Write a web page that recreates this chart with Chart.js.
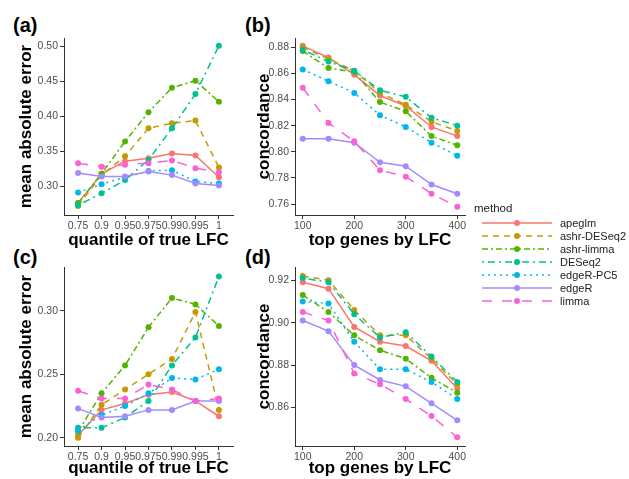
<!DOCTYPE html>
<html>
<head>
<meta charset="utf-8">
<script src="https://cdn.jsdelivr.net/npm/chart.js@4.4.0/dist/chart.umd.min.js"></script>
<style>
  body { margin: 0; background: #fff; width: 629px; height: 479px; position: relative; overflow: hidden; font-family: "Liberation Sans", Arial, sans-serif; }
  canvas { position: absolute; }
  .tag { position: absolute; font-weight: bold; font-size: 20px; line-height: 20px; color: #000; }
  .lrow { position: absolute; left: 482px; height: 12px; font-size: 11px; line-height: 12px; color: #222; white-space: nowrap; }
  .lrow svg { position: absolute; left: 0; top: 0; }
  .lrow span { position: absolute; left: 78px; top: 0; }
  #legTitle { position: absolute; left: 474px; top: 202px; font-size: 11.5px; color: #222; }
</style>
</head>
<body>
<div class="tag" style="left:13px;top:15px">(a)</div>
<div class="tag" style="left:245px;top:15px">(b)</div>
<div class="tag" style="left:13px;top:247px">(c)</div>
<div class="tag" style="left:245px;top:247px">(d)</div>

<canvas id="panelA" width="240" height="252" style="left:0;top:0"></canvas>
<canvas id="panelB" width="240" height="252" style="left:240px;top:0"></canvas>
<canvas id="panelC" width="240" height="227" style="left:0;top:252px"></canvas>
<canvas id="panelD" width="240" height="227" style="left:240px;top:252px"></canvas>

<div id="legTitle">method</div>
<div id="legend"></div>

<script>
const methods = ['apeglm', 'ashr-DESeq2', 'ashr-limma', 'DESeq2', 'edgeR-PC5', 'edgeR', 'limma'];
const colors = ['#F8766D', '#C49A00', '#53B400', '#00C094', '#00B6EB', '#A58AFF', '#FB61D7'];
const dashes = [[], [6, 5], [6, 3, 2, 3], [2, 4, 7, 4], [2, 4], [], [10, 10]];

const quantiles = ['0.75', '0.9', '0.95', '0.975', '0.99', '0.995', '1'];
const topGenes = [100, 150, 200, 250, 300, 350, 400];
const topGeneTicks = [100, 200, 300, 400];

const maeTicksA = [0.30, 0.35, 0.40, 0.45, 0.50];
const concTicksB = [0.76, 0.78, 0.80, 0.82, 0.84, 0.86, 0.88];
const maeTicksC = [0.20, 0.25, 0.30];
const concTicksD = [0.86, 0.88, 0.90, 0.92];

// (a) mean absolute error, rows follow methods
const maeA = [
  [0.276, 0.318, 0.336, 0.340, 0.347, 0.344, 0.313],
  [0.272, 0.316, 0.343, 0.383, 0.390, 0.394, 0.327],
  [0.276, 0.318, 0.364, 0.406, 0.441, 0.451, 0.421],
  [0.273, 0.290, 0.309, 0.338, 0.383, 0.432, 0.501],
  [0.291, 0.303, 0.313, 0.322, 0.323, 0.307, 0.304],
  [0.319, 0.314, 0.314, 0.321, 0.316, 0.304, 0.301],
  [0.333, 0.328, 0.331, 0.333, 0.337, 0.326, 0.320]
];

// (b) concordance
const concB = [
  [0.881, 0.872, 0.859, 0.843, 0.835, 0.819, 0.812],
  [0.880, 0.871, 0.862, 0.845, 0.836, 0.823, 0.816],
  [0.877, 0.864, 0.861, 0.838, 0.831, 0.812, 0.805],
  [0.878, 0.869, 0.862, 0.847, 0.842, 0.826, 0.820],
  [0.863, 0.854, 0.845, 0.828, 0.819, 0.807, 0.797],
  [0.810, 0.810, 0.807, 0.792, 0.789, 0.775, 0.768],
  [0.849, 0.822, 0.808, 0.786, 0.781, 0.768, 0.758]
];

// (c) mean absolute error
const maeC = [
  [0.202, 0.222, 0.227, 0.234, 0.236, 0.229, 0.217],
  [0.200, 0.226, 0.238, 0.250, 0.262, 0.299, 0.222],
  [0.205, 0.235, 0.257, 0.287, 0.310, 0.305, 0.288],
  [0.208, 0.208, 0.216, 0.229, 0.257, 0.279, 0.327],
  [0.206, 0.218, 0.225, 0.235, 0.247, 0.246, 0.254],
  [0.223, 0.216, 0.217, 0.222, 0.222, 0.229, 0.229],
  [0.237, 0.231, 0.231, 0.242, 0.238, 0.229, 0.231]
];

// (d) concordance
const concD = [
  [0.919, 0.916, 0.898, 0.891, 0.889, 0.882, 0.869],
  [0.922, 0.920, 0.906, 0.894, 0.894, 0.883, 0.871],
  [0.913, 0.905, 0.894, 0.887, 0.883, 0.874, 0.867],
  [0.921, 0.919, 0.904, 0.893, 0.8955, 0.884, 0.872],
  [0.910, 0.909, 0.891, 0.878, 0.878, 0.872, 0.864],
  [0.901, 0.896, 0.880, 0.873, 0.870, 0.862, 0.854],
  [0.905, 0.901, 0.876, 0.871, 0.864, 0.856, 0.846]
];

const tickFont = { family: '"Liberation Sans", Arial, sans-serif', size: 10.5 };
const titleFont = { family: '"Liberation Sans", Arial, sans-serif', size: 17, weight: 'bold' };

function drawPanel(id, xs, series, o) {
  const ctx = document.getElementById(id);
  return new Chart(ctx, {
    type: 'line',
    data: {
      datasets: series.map((vals, i) => ({
        label: methods[i],
        data: vals.map((v, j) => ({ x: xs[j], y: v })),
        borderColor: colors[i],
        backgroundColor: colors[i],
        borderDash: dashes[i],
        borderWidth: 1.5,
        pointRadius: 3,
        pointHoverRadius: 3,
        pointBorderWidth: 0,
        order: methods.length - i
      }))
    },
    options: {
      responsive: false,
      animation: false,
      devicePixelRatio: 1,
      layout: { autoPadding: false, padding: { top: o.padTop, right: o.padRight, left: 0, bottom: 0 } },
      plugins: { legend: { display: false }, tooltip: { enabled: false } },
      scales: {
        x: {
          type: 'linear',
          min: o.xMin,
          max: o.xMax,
          afterBuildTicks: s => { s.ticks = o.xTicks.map(v => ({ value: v })); },
          afterFit: s => { s.height = o.xH; },
          ticks: { callback: o.xLabel, color: '#4D4D4D', font: tickFont, padding: 1, maxRotation: 0, autoSkip: false },
          grid: { display: true, drawOnChartArea: false, tickLength: 4, color: '#333' },
          border: { display: true, color: '#333', width: 1 },
          title: { display: true, text: o.xTitle, color: '#000', font: titleFont, padding: { top: 0, bottom: o.xTitlePad } }
        },
        y: {
          type: 'linear',
          min: o.yMin,
          max: o.yMax,
          afterBuildTicks: s => { s.ticks = o.yTicks.map(v => ({ value: v })); },
          afterFit: s => { s.width = o.yW; },
          ticks: { callback: v => v.toFixed(2), color: '#4D4D4D', font: tickFont, padding: 2 },
          grid: { display: true, drawOnChartArea: false, tickLength: 4, color: '#333' },
          border: { display: true, color: '#333', width: 1 },
          title: { display: true, text: o.yTitle, color: '#000', font: titleFont, padding: { top: o.yTitlePad, bottom: 0 } }
        }
      }
    }
  });
}

const qIdx = quantiles.map((q, i) => i);

drawPanel('panelA', qIdx, maeA, {
  xMin: -0.6, xMax: 6.6, xTicks: qIdx, xLabel: v => quantiles[v], xH: 37, xTitle: 'quantile of true LFC', xTitlePad: 1,
  yMin: 0.259, yMax: 0.512, yTicks: maeTicksA, yW: 64, yTitle: 'mean absolute error', yTitlePad: 16,
  padTop: 38, padRight: 7
});

drawPanel('panelB', topGenes, concB, {
  xMin: 85, xMax: 415, xTicks: topGeneTicks, xLabel: v => String(v), xH: 37, xTitle: 'top genes by LFC', xTitlePad: 1,
  yMin: 0.7517, yMax: 0.887, yTicks: concTicksB, yW: 55, yTitle: 'concordance', yTitlePad: 14,
  padTop: 38, padRight: 15
});

drawPanel('panelC', qIdx, maeC, {
  xMin: -0.6, xMax: 6.6, xTicks: qIdx, xLabel: v => quantiles[v], xH: 33, xTitle: 'quantile of true LFC', xTitlePad: 0,
  yMin: 0.1936, yMax: 0.3344, yTicks: maeTicksC, yW: 64, yTitle: 'mean absolute error', yTitlePad: 16,
  padTop: 15, padRight: 7
});

drawPanel('panelD', topGenes, concD, {
  xMin: 85, xMax: 415, xTicks: topGeneTicks, xLabel: v => String(v), xH: 33, xTitle: 'top genes by LFC', xTitlePad: 0,
  yMin: 0.8419, yMax: 0.9262, yTicks: concTicksD, yW: 55, yTitle: 'concordance', yTitlePad: 14,
  padTop: 15, padRight: 15
});

// legend
const legend = document.getElementById('legend');
methods.forEach((m, i) => {
  const row = document.createElement('div');
  row.className = 'lrow';
  row.style.top = (217 + i * 13) + 'px';
  row.innerHTML = `<svg width="70" height="12"><line x1="0" y1="6" x2="70" y2="6" stroke="${colors[i]}" stroke-width="1.5" stroke-dasharray="${dashes[i].join(' ')}"/><circle cx="35" cy="6" r="3" fill="${colors[i]}"/></svg><span>${m}</span>`;
  legend.appendChild(row);
});
</script>
</body>
</html>
